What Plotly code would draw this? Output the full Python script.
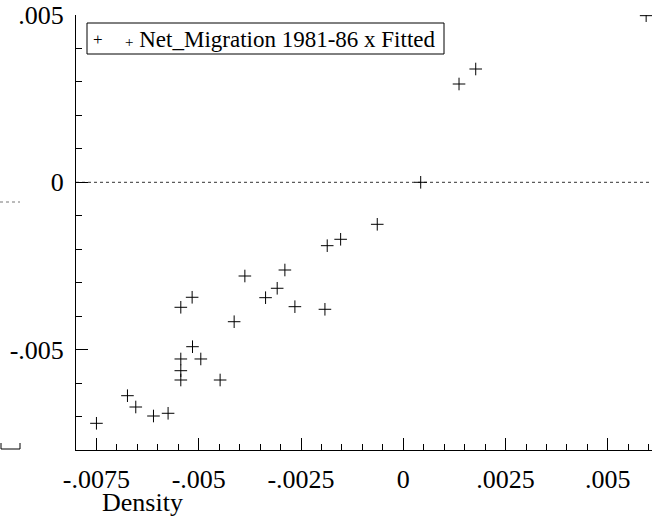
import plotly.graph_objects as go

# Data (Density vs Net_Migration 1981-86 x Fitted)
density = [-0.0075, -0.006742, -0.006539, -0.006106, -0.005749,
           -0.005438, -0.005161, -0.005438, -0.005438, -0.005438,
           -0.005152, -0.004949, -0.004477, -0.004134, -0.003872,
           -0.003366, -0.003082, -0.002894, -0.002649, -0.001915,
           -0.001859, -0.001531, -0.000636, 0.000426, 0.001363,
           0.001771, 0.005937]
fitted = [-0.007202, -0.006377, -0.006715, -0.006984, -0.006903,
          -0.003735, -0.003436, -0.005280, -0.005630, -0.005908,
          -0.004913, -0.005280, -0.005908, -0.004166, -0.002800,
          -0.003448, -0.003167, -0.002621, -0.003717, -0.003795,
          -0.001894, -0.001703, -0.001255, 0.000000, 0.002938,
          0.003386, 0.004980]

x_tickvals = [-0.0075, -0.005, -0.0025, 0, 0.0025, 0.005]
x_ticktext = ["-.0075", "-.005", "-.0025", "0", ".0025", ".005"]
y_tickvals = [-0.005, 0, 0.005]
y_ticktext = ["-.005", "0", ".005"]
legend_label = "Net_Migration 1981-86 x Fitted"
x_title = "Density"

FONT = "'Liberation Serif', 'Times New Roman', serif"

fig = go.Figure()
fig.add_trace(go.Scatter(
    x=density, y=fitted, mode="markers", name=legend_label,
    marker=dict(symbol="cross-thin-open", size=9, color="black",
                line=dict(width=1, color="black")),
    showlegend=False,
))

W, H = 652, 517
L, R, T, B = 76, 0, 15, 67
pw, ph = W - L - R, H - T - B

def px(xp):
    return (xp - L) / pw

def py(yp):
    return (H - B - yp) / ph

shapes = [
    # dotted zero reference line
    dict(type="line", xref="paper", yref="y", x0=0, x1=1, y0=0, y1=0,
         line=dict(color="#333", width=1, dash="dot"), layer="below"),
    # legend frame
    dict(type="rect", xref="paper", yref="paper",
         x0=px(87), x1=px(444), y0=py(54), y1=py(23),
         line=dict(color="black", width=1), fillcolor="white"),
    # small neighbouring-panel fragments at the left edge
    dict(type="path", xref="paper", yref="paper",
         path=f"M {px(1)} {py(443)} L {px(1)} {py(449)} L {px(20)} {py(449)} L {px(20)} {py(443)}",
         line=dict(color="black", width=1)),
    dict(type="line", xref="paper", yref="paper", x0=px(0), x1=px(20),
         y0=py(202), y1=py(202), line=dict(color="#777", width=1, dash="dot")),
]

annotations = [
    dict(text=x_title, xref="paper", yref="paper",
         x=px(142), y=py(502), xanchor="center", yanchor="middle",
         showarrow=False, font=dict(family=FONT, size=26, color="black")),
    # legend glyph and label
    dict(text="+", xref="paper", yref="paper",
         x=px(98), y=py(39), xanchor="center", yanchor="middle",
         showarrow=False, font=dict(family=FONT, size=17, color="black")),
    dict(text="<span style='font-size:15px'>+</span> " + legend_label,
         xref="paper", yref="paper",
         x=px(123), y=py(39), xanchor="left", yanchor="middle",
         showarrow=False, font=dict(family=FONT, size=23, color="black")),
]

fig.update_layout(
    width=W, height=H, autosize=False,
    margin=dict(l=L, r=R, t=T, b=B, pad=0),
    paper_bgcolor="white", plot_bgcolor="white",
    font=dict(family=FONT, size=26, color="black"),
    showlegend=False,
    xaxis=dict(range=[-0.008, 0.00608], tickmode="array",
               tickvals=x_tickvals, ticktext=x_ticktext,
               ticks="inside", ticklen=12, tickwidth=1, tickcolor="black",
               showline=True, linecolor="black", linewidth=1,
               showgrid=False, zeroline=False, mirror=False,
               ticklabelstandoff=6,
               minor=dict(tickmode="linear", tick0=0, dtick=0.0005,
                          ticks="inside", ticklen=6, tickcolor="black",
                          showgrid=False)),
    yaxis=dict(range=[-0.008, 0.005], tickmode="array",
               tickvals=y_tickvals, ticktext=y_ticktext,
               ticks="inside", ticklen=12, tickwidth=1, tickcolor="black",
               showline=True, linecolor="black", linewidth=1,
               showgrid=False, zeroline=False, mirror=False,
               ticklabelstandoff=6,
               minor=dict(tickmode="linear", tick0=0, dtick=0.001,
                          ticks="inside", ticklen=6, tickcolor="black",
                          showgrid=False)),
    shapes=shapes,
    annotations=annotations,
)

fig.write_html("out.html")
